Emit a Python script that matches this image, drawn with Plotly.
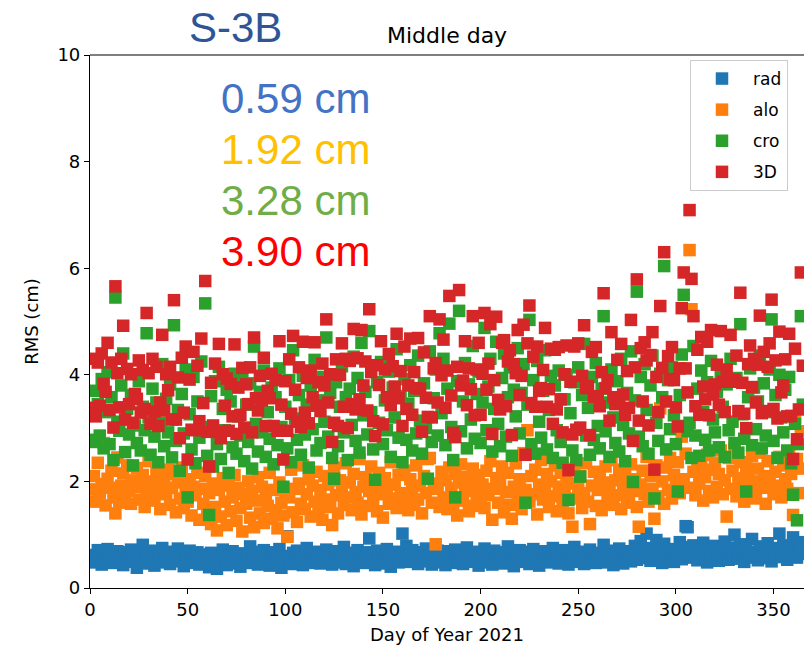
import plotly.graph_objects as go

days = list(range(1, 366))

rad = [
0.55,0.62,0.48,0.71,0.58,0.44,0.66,0.52,0.73,0.59,0.47,0.64,0.56,0.69,0.50,0.61,0.43,0.67,0.57,0.53,
0.72,0.49,0.60,0.38,0.65,0.55,0.81,0.46,0.63,0.58,0.51,0.70,0.42,0.59,0.66,0.54,0.75,0.48,0.62,0.57,
0.45,0.68,0.53,0.61,0.74,0.50,0.58,0.41,0.64,0.56,0.70,0.47,0.60,0.52,0.67,0.44,0.59,0.63,0.49,0.55,
0.39,0.66,0.51,0.58,0.36,0.62,0.48,0.72,0.54,0.43,0.60,0.57,0.69,0.46,0.63,0.52,0.40,0.65,0.55,0.49,
0.61,0.78,0.47,0.56,0.68,0.44,0.59,0.53,0.71,0.50,0.64,0.42,0.58,0.67,0.48,0.55,0.73,0.38,0.60,0.52,
0.97,0.57,0.45,0.66,0.54,0.70,0.49,0.62,0.43,0.58,0.75,0.51,0.64,0.47,0.59,0.55,0.68,0.46,0.61,0.53,
0.72,0.50,0.63,0.44,0.57,0.69,0.48,0.60,0.54,0.77,0.45,0.62,0.52,0.66,0.41,0.58,0.71,0.49,0.64,0.56,
0.47,0.67,0.93,0.55,0.61,0.43,0.70,0.51,0.59,0.64,0.46,0.73,0.53,0.40,0.62,0.57,0.68,0.48,0.65,1.02,
0.54,0.79,0.60,0.49,0.71,0.56,0.63,0.45,0.67,0.52,0.58,0.74,0.50,0.61,0.44,0.66,0.55,0.70,0.48,0.62,
0.57,0.43,0.69,0.53,0.64,0.47,0.72,0.58,0.51,0.66,0.45,0.60,0.76,0.54,0.49,0.63,0.56,0.68,0.42,0.61,
0.52,0.74,0.48,0.65,0.57,0.44,0.70,0.55,0.62,0.50,0.67,0.46,0.59,0.78,0.53,0.64,0.41,0.60,0.56,0.71,
0.49,0.63,0.54,0.68,0.45,0.58,0.73,0.51,0.66,0.42,0.61,0.55,0.69,0.48,0.64,0.57,0.75,0.50,0.62,0.46,
0.59,0.71,0.53,0.65,0.44,0.60,0.56,0.77,0.49,0.63,0.52,0.68,0.45,0.61,0.57,0.72,0.50,0.64,0.47,0.59,
0.66,0.54,0.81,0.48,0.62,0.57,0.70,0.43,0.65,0.52,0.74,0.58,0.46,0.63,0.55,0.69,0.50,0.61,0.79,0.53,
0.67,0.88,0.56,0.72,1.02,0.60,0.51,0.75,0.64,0.90,0.58,0.69,0.47,0.83,0.62,0.55,0.73,0.66,0.49,0.71,
0.60,0.86,0.54,0.77,1.16,1.14,0.68,0.57,0.80,0.63,0.52,0.74,0.59,0.85,0.66,0.48,0.71,0.62,0.56,0.79,
0.64,0.51,0.73,0.58,0.87,0.67,0.53,0.76,0.61,1.00,0.70,0.55,0.82,0.63,0.49,0.74,0.59,0.68,0.92,0.57,
0.66,0.52,0.78,0.61,0.71,0.56,0.84,0.64,0.50,0.75,0.60,0.69,1.02,0.58,0.80,0.65,0.53,0.73,0.62,0.95,
0.68,0.57,0.86,0.64,0.74]

alo = [
1.85,2.10,1.62,2.35,1.78,1.95,2.72,1.55,2.05,1.88,2.20,1.70,1.40,2.45,1.60,1.92,2.15,1.74,2.30,1.82,
1.58,2.02,1.90,2.25,1.66,1.96,2.12,1.52,1.84,2.38,1.72,2.00,1.64,2.18,1.80,1.48,2.08,1.94,1.76,2.22,
1.56,1.88,2.14,1.42,1.98,1.68,2.26,1.50,1.82,1.62,2.04,1.36,1.90,1.74,2.16,1.28,1.86,1.58,2.10,1.46,
1.78,1.20,1.96,1.52,1.08,1.84,1.34,2.06,1.62,1.18,1.92,1.44,1.70,2.12,1.26,1.88,1.50,1.06,1.76,1.58,
2.00,1.32,1.82,1.14,1.64,2.08,1.40,1.90,1.22,1.72,1.54,2.16,1.30,1.84,1.46,1.12,1.98,1.60,1.36,1.80,
0.96,1.70,2.22,1.42,1.86,1.24,1.96,1.58,2.30,1.48,1.76,2.04,1.34,1.92,1.62,2.18,1.44,1.84,1.28,2.10,
1.66,1.94,1.52,1.18,2.26,1.74,1.40,2.02,1.86,1.56,2.34,1.70,1.98,1.46,2.14,1.80,1.60,2.42,1.38,1.90,
2.08,1.54,1.82,2.28,1.64,1.96,1.44,2.16,1.76,1.32,2.06,1.88,1.58,2.36,1.68,1.94,1.50,2.12,1.78,1.62,
2.20,1.72,1.46,2.04,1.84,1.56,2.30,1.66,1.92,1.40,2.10,1.78,2.42,2.44,1.60,1.96,0.82,1.86,1.52,2.18,
1.70,2.02,1.48,2.26,1.88,1.58,2.14,1.36,1.98,2.32,1.64,1.82,2.08,1.44,1.92,2.24,1.54,1.76,2.12,1.66,
1.94,1.50,2.20,1.74,2.38,1.28,1.86,2.06,1.60,1.98,2.28,1.42,1.80,2.16,1.56,1.30,1.90,2.34,1.68,2.04,
1.48,2.53,1.84,2.96,1.62,2.10,1.76,2.22,1.38,1.94,2.40,1.66,1.86,2.14,1.52,2.00,1.72,2.30,1.44,1.90,
2.16,1.58,1.80,2.06,1.40,1.96,1.15,2.24,1.68,1.88,2.10,1.50,1.78,2.34,1.62,1.20,1.92,2.18,1.54,1.84,
2.08,1.46,1.98,2.28,1.64,1.86,2.40,1.56,2.02,1.74,2.22,1.48,1.90,2.12,1.70,1.60,2.32,1.82,2.04,1.52,
1.15,1.94,2.20,1.76,2.46,1.62,2.10,1.86,1.30,2.30,1.72,3.37,2.00,1.58,2.26,1.84,2.44,1.68,2.12,1.92,
2.36,1.78,2.84,2.04,2.52,1.88,6.34,5.23,2.18,1.74,2.40,1.96,2.28,1.64,2.08,2.50,1.82,2.22,1.70,2.34,
1.90,2.14,2.58,1.76,2.02,1.34,2.44,1.86,2.20,2.62,1.72,2.06,2.36,1.94,1.62,2.28,2.12,1.80,2.48,2.00,
1.68,2.24,2.54,1.88,2.10,1.58,2.38,1.96,1.90,1.76,2.18,1.92,2.46,1.70,2.30,2.04,1.86,2.56,2.14,1.37,
3.20,2.42,1.78,2.94,2.24]

cro = [
2.78,3.70,2.74,3.45,2.86,3.92,2.62,3.30,4.05,2.70,3.58,2.40,5.45,3.12,2.95,3.80,4.40,2.55,3.36,2.88,
3.62,2.30,3.05,2.72,3.88,2.58,3.40,2.96,4.78,3.20,2.50,3.74,2.84,3.48,2.36,3.10,4.20,2.66,3.55,2.92,
3.82,2.45,4.93,2.76,3.34,2.20,3.64,2.90,4.10,1.70,3.26,2.60,3.96,2.34,3.50,2.82,4.25,3.02,5.34,2.48,
1.37,3.60,2.28,3.88,2.70,4.15,2.42,3.36,2.96,3.72,2.16,3.50,2.64,4.02,2.52,3.22,2.86,3.94,2.38,3.44,
2.74,3.84,2.24,4.53,3.08,2.56,3.68,2.92,4.08,2.46,3.30,2.80,3.76,2.32,3.58,2.68,4.12,3.02,1.90,3.40,
2.62,3.90,2.36,4.46,3.18,2.78,3.62,2.50,3.98,2.88,3.44,2.26,3.80,2.98,4.28,2.58,3.52,2.72,3.96,3.12,
4.70,2.84,3.66,2.44,2.05,3.86,2.66,3.40,4.16,2.92,3.58,2.40,3.74,3.06,4.34,2.76,3.94,2.54,4.60,3.24,
3.68,2.88,4.82,3.30,2.60,2.03,3.86,3.10,4.24,2.70,3.52,2.96,4.06,2.46,3.76,3.20,4.48,2.82,3.60,2.36,
3.92,2.78,3.46,4.18,2.58,3.70,2.90,4.36,3.14,2.52,3.84,3.00,2.05,4.44,2.74,3.56,4.10,2.86,4.78,3.28,
4.30,2.68,3.74,4.96,3.02,2.40,1.70,3.88,5.20,2.94,3.50,4.22,2.62,3.82,3.16,4.54,2.80,3.64,4.06,2.72,
3.48,4.88,2.96,3.78,4.30,2.56,3.36,4.62,3.08,2.66,3.94,4.40,2.84,3.58,4.14,2.48,3.72,3.22,4.50,2.90,
3.66,4.20,1.60,3.44,5.03,2.70,3.90,2.52,4.26,3.12,2.82,3.70,4.46,2.60,3.34,3.98,2.44,3.80,2.96,4.08,
2.74,2.35,3.54,4.00,1.65,3.28,2.58,3.86,2.40,4.14,2.09,3.62,4.58,2.86,3.38,2.50,3.96,2.78,4.22,3.04,
2.62,3.74,5.10,2.94,3.48,2.46,4.10,3.20,2.72,3.88,2.56,4.30,3.06,2.38,3.66,2.90,4.44,1.99,3.52,5.56,
2.84,3.96,2.66,4.20,3.34,2.52,3.80,4.36,1.68,3.10,2.76,4.02,3.58,6.04,2.60,3.90,2.98,4.14,3.24,2.70,
1.81,3.62,4.38,5.50,3.04,2.94,3.10,2.44,4.54,2.86,3.74,2.48,4.08,3.30,2.78,3.86,2.58,4.26,3.16,2.92,
3.68,2.64,4.00,3.40,2.46,3.82,2.96,4.30,3.12,2.72,3.94,2.54,4.95,3.26,2.80,1.81,3.58,4.12,2.68,3.76,
2.98,3.50,4.36,2.62,3.84,2.86,3.30,4.10,5.04,2.76,3.62,2.44,4.00,3.20,2.92,3.72,2.58,3.96,2.34,1.75,
3.08,1.27,2.70,5.10,3.44]

d3 = [
3.38,4.30,3.22,4.23,3.42,4.40,3.83,3.68,4.60,3.34,4.23,3.01,5.66,4.03,3.39,4.30,4.92,3.16,4.11,3.45,
4.01,3.10,3.64,3.55,4.27,3.29,4.09,3.36,5.16,4.03,3.08,4.30,3.31,4.15,3.04,3.48,4.75,3.33,4.01,3.71,
4.15,3.16,5.40,3.16,3.95,2.81,4.32,3.29,4.53,2.41,3.91,2.97,4.43,2.96,4.17,3.13,4.68,3.47,5.76,2.93,
2.28,3.85,3.05,4.21,2.93,4.58,2.81,4.01,3.42,3.93,2.95,3.83,3.22,4.57,2.89,3.76,3.25,4.13,3.01,3.82,
3.45,4.14,2.92,4.70,3.56,3.33,3.98,3.52,4.32,3.04,3.70,3.56,4.02,3.04,3.90,2.95,4.63,3.44,2.41,3.88,
2.95,4.29,3.27,4.73,3.72,3.12,4.14,3.02,4.62,3.29,3.94,3.09,4.08,3.58,4.61,3.42,3.86,3.32,4.21,3.80,
5.04,3.48,4.01,2.74,3.10,4.29,3.04,4.00,4.59,3.40,4.30,3.00,4.26,3.45,4.86,3.35,4.31,3.54,4.84,3.80,
4.25,3.33,5.23,4.05,3.13,2.85,4.18,3.81,4.63,3.07,4.10,3.58,4.39,3.43,4.16,3.78,4.77,3.56,4.07,3.04,
4.53,3.36,3.80,4.68,3.25,4.05,3.75,4.69,3.74,2.93,4.42,3.57,3.21,5.10,3.20,4.12,4.22,3.48,5.04,3.99,
4.66,3.38,4.08,5.48,3.61,2.91,2.83,4.15,5.59,3.80,3.89,4.63,3.43,4.12,3.73,5.10,3.24,4.10,4.60,3.25,
4.02,5.16,3.72,4.21,4.95,2.89,3.90,5.09,3.53,3.35,4.60,4.65,3.41,4.25,4.46,2.87,4.20,4.03,4.84,3.62,
3.98,4.94,2.50,4.59,5.30,3.47,4.34,3.40,4.53,3.70,3.75,4.09,4.88,3.40,3.73,4.49,3.08,4.47,3.35,4.52,
3.54,2.92,4.01,4.55,2.21,3.87,2.88,4.53,2.97,4.59,3.01,3.98,4.93,3.75,3.79,2.87,4.43,3.59,4.52,3.60,
3.41,4.05,5.53,3.75,3.90,3.14,4.80,3.58,3.45,4.28,3.47,4.58,3.63,3.25,4.07,3.38,5.03,2.76,4.14,5.79,
3.14,4.50,3.50,4.61,4.27,3.05,4.37,4.80,2.22,3.96,3.30,5.29,4.13,6.30,3.50,4.35,3.92,4.52,3.90,3.39,
3.03,4.12,5.25,5.92,4.12,3.67,7.09,5.80,5.10,3.41,4.47,3.25,4.71,3.78,3.54,4.62,3.24,4.84,3.63,3.82,
4.19,3.44,4.82,3.87,3.30,4.10,3.87,4.75,3.87,3.91,4.36,3.32,5.54,3.85,3.27,3.00,4.20,4.55,3.77,4.30,
3.48,4.19,5.11,3.28,4.43,3.32,4.15,4.59,5.41,3.36,4.27,3.18,4.81,3.67,3.80,4.29,3.22,4.77,3.23,2.42,
4.49,2.79,3.35,5.92,4.17]

series = [("rad", rad, "#1f77b4"), ("alo", alo, "#ff7f0e"),
          ("cro", cro, "#2ca02c"), ("3D", d3, "#d62728")]

fig = go.Figure()
for name, vals, col in series:
    fig.add_trace(go.Scatter(x=days, y=vals, mode="markers", name=name,
                             legendgroup=name,
                             marker=dict(symbol="square", size=12.5, color=col,
                                         line=dict(width=0))))

L, T, R, B = 90, 55, 804, 588
W, H = 804, 650
def px(x): return (x - L) / (R - L)
def py(y): return (B - y) / (B - T)

font = "DejaVu Sans"
fs = 18
fig.update_layout(
    width=W, height=H,
    margin=dict(l=L, r=W - R, t=T, b=H - B),
    plot_bgcolor="white", paper_bgcolor="white",
    showlegend=True,
    legend=dict(x=px(690), y=py(60), xanchor="left", yanchor="top",
                bordercolor="#cccccc", borderwidth=1, bgcolor="white",
                font=dict(family=font, size=17, color="black"),
                tracegroupgap=6, itemwidth=52),
    xaxis=dict(range=[0, 365.6], tickvals=[0, 50, 100, 150, 200, 250, 300, 350],
               showline=True, linecolor="black", linewidth=1.2,
               ticks="outside", ticklen=5, tickcolor="black",
               showgrid=False, zeroline=False,
               tickfont=dict(family=font, size=fs, color="black"),
               title=dict(text="Day of Year 2021", standoff=9,
                          font=dict(family=font, size=fs, color="black"))),
    yaxis=dict(range=[0, 10], tickvals=[0, 2, 4, 6, 8, 10],
               showline=True, linecolor="black", linewidth=1.2,
               ticks="outside", ticklen=5, tickcolor="black",
               showgrid=False, zeroline=False,
               tickfont=dict(family=font, size=fs, color="black"),
               title=dict(text="RMS (cm)", standoff=14,
                          font=dict(family=font, size=fs, color="black"))),
)
fig.add_shape(type="line", xref="paper", yref="paper", x0=0, x1=1, y0=1, y1=1,
              line=dict(color="black", width=1.2))

ann = [
    ("S-3B", 235, 27, "#2F5597", 42, "center", "Liberation Sans"),
    ("Middle day", 447, 35, "black", 22, "center", font),
    ("0.59 cm", 219, 98, "#4472C4", 42, "left", "Liberation Sans"),
    ("1.92 cm", 219, 149, "#FFC000", 42, "left", "Liberation Sans"),
    ("3.28 cm", 219, 200, "#70AD47", 42, "left", "Liberation Sans"),
    ("3.90 cm", 219, 251, "#FF0000", 42, "left", "Liberation Sans"),
]
for text, x, y, col, size, anchor, fam in ann:
    fig.add_annotation(text=text, x=px(x), y=py(y), xref="paper", yref="paper",
                       xanchor=anchor, yanchor="middle", showarrow=False,
                       font=dict(family=fam, size=size, color=col))

fig.write_html("out.html")
